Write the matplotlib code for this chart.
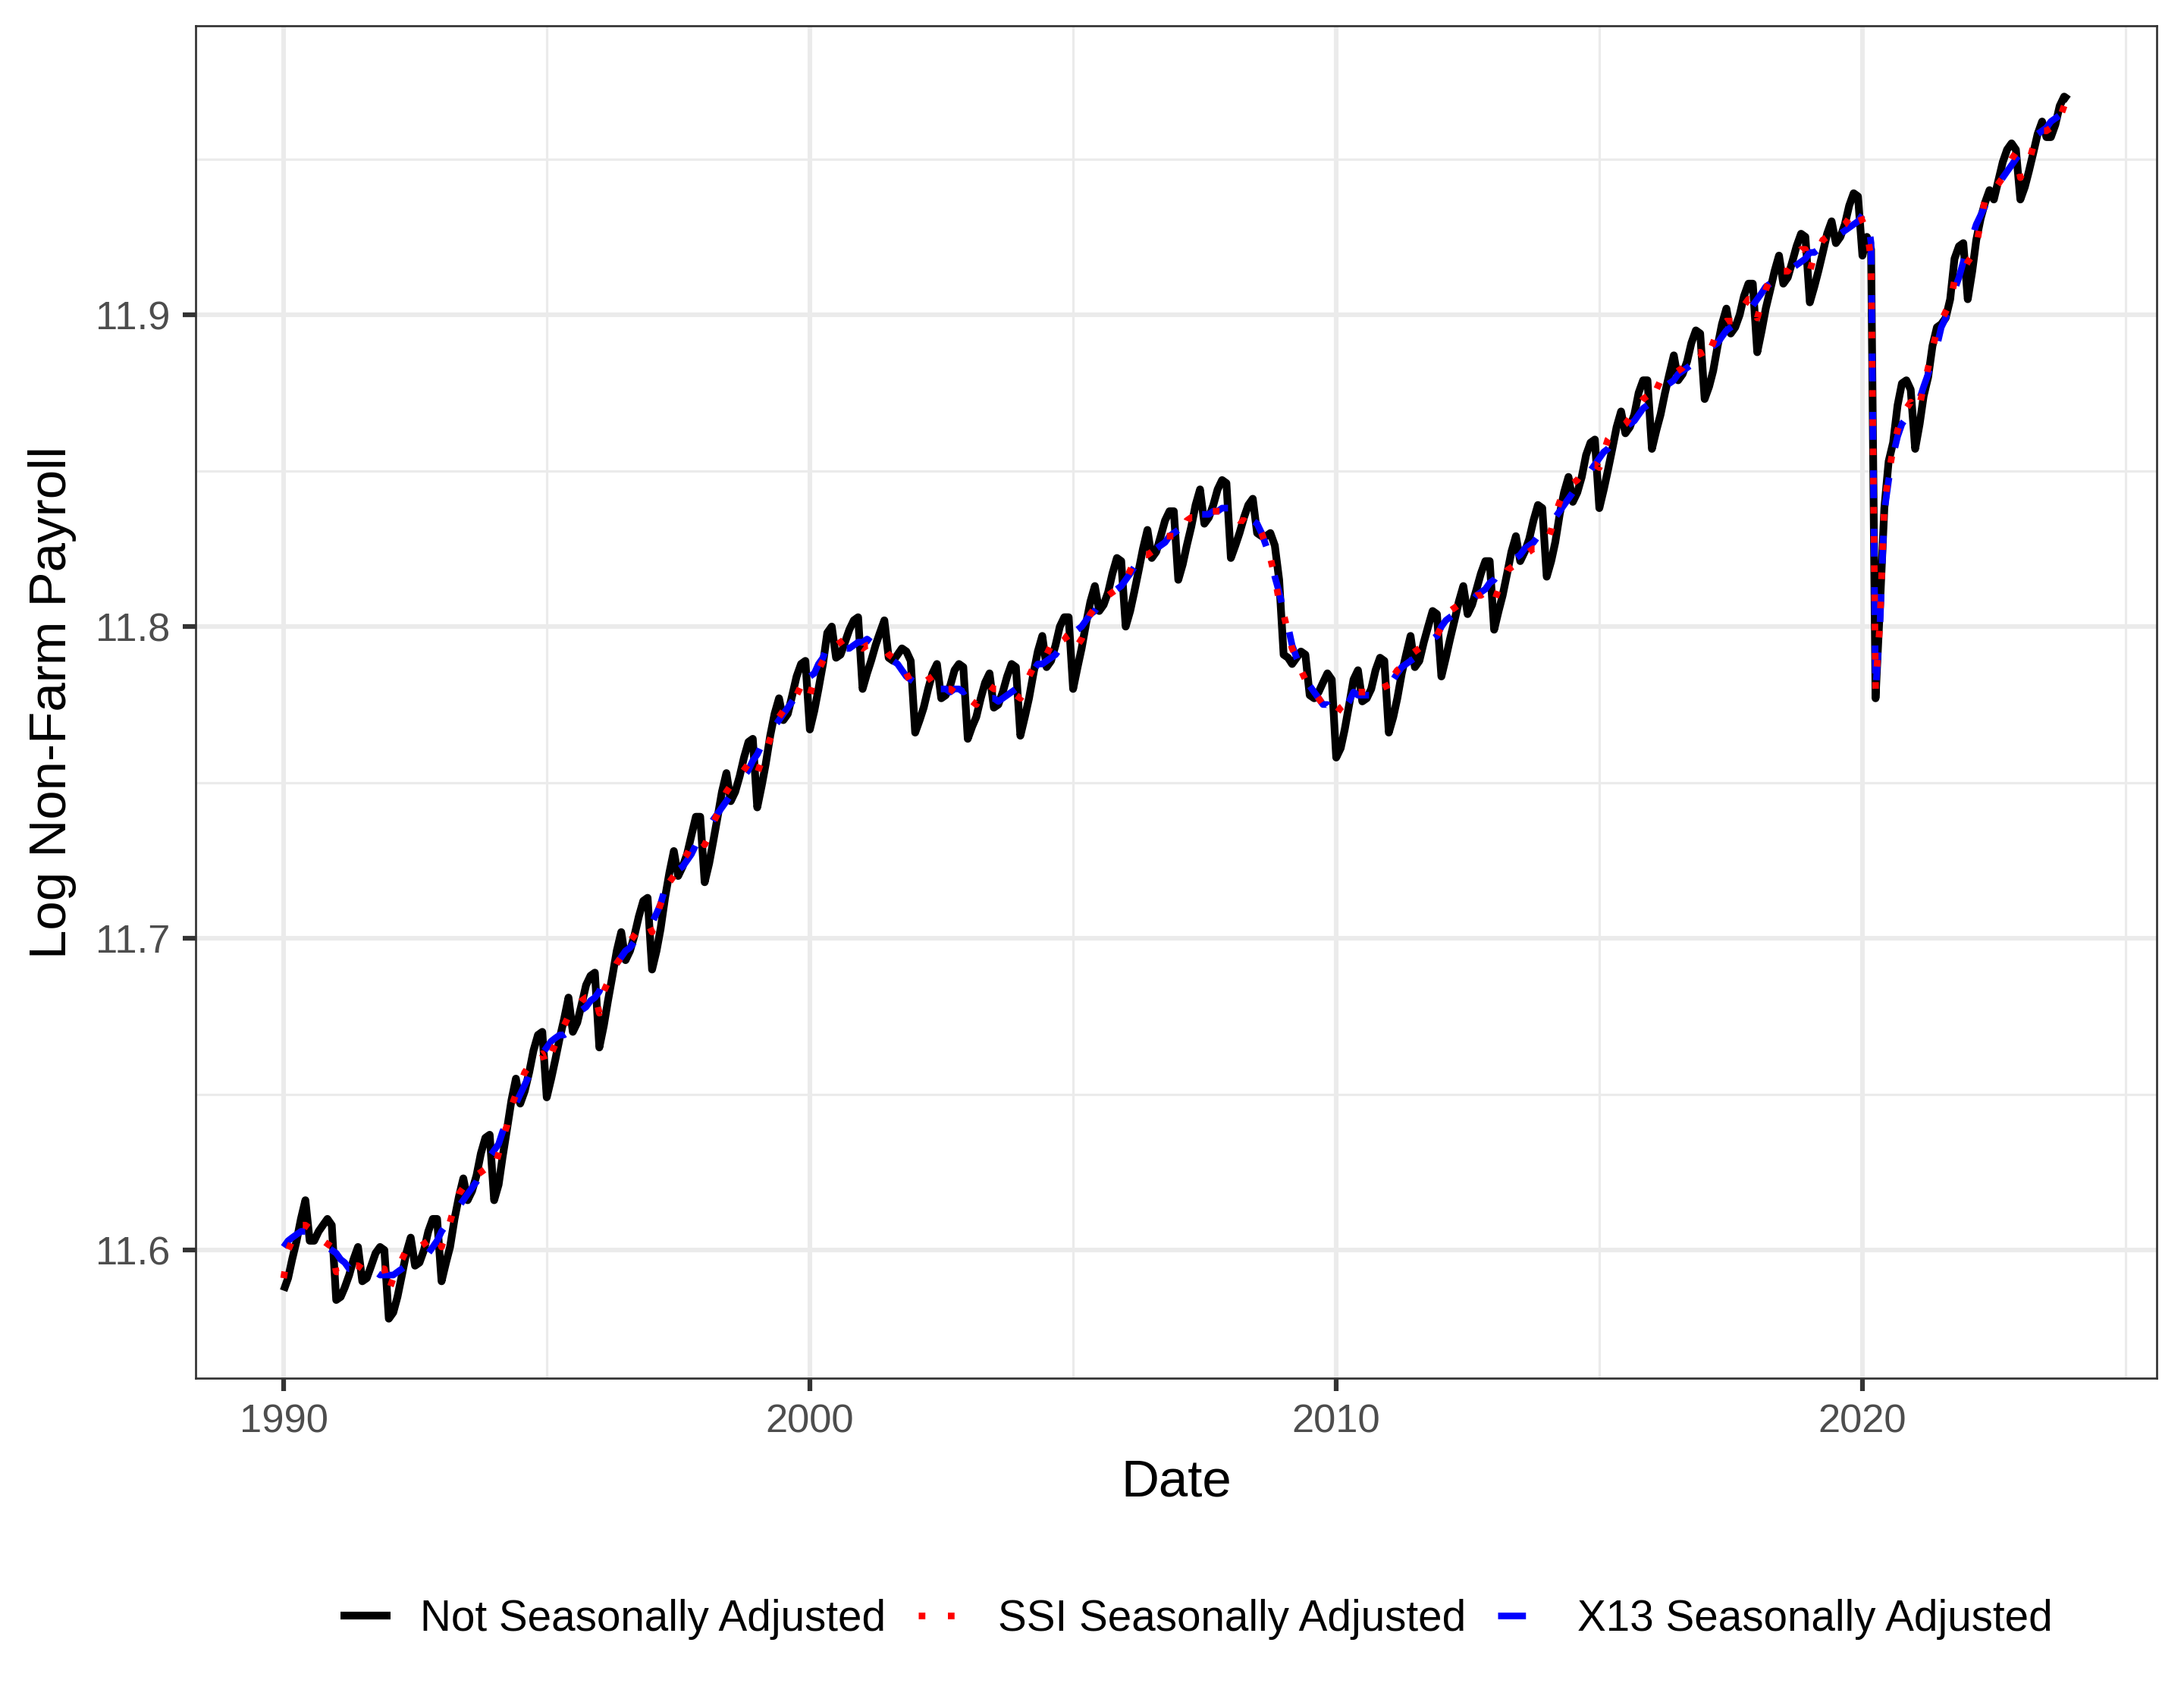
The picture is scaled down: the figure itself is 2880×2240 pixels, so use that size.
import matplotlib
matplotlib.use("Agg")
import matplotlib.pyplot as plt
import matplotlib.dates as mdates
from matplotlib.ticker import FixedLocator, FixedFormatter
import pandas as pd

plt.rcParams['font.family'] = ['Liberation Sans', 'DejaVu Sans']

# Log of non-farm payroll, monthly, Jan 1990 .. Dec 2023 (12 values per row = one year)
nsa = [
    11.587, 11.591, 11.597, 11.603, 11.610, 11.616, 11.603, 11.603, 11.606, 11.608, 11.610, 11.608,  # 1990
    11.584, 11.585, 11.588, 11.592, 11.597, 11.601, 11.590, 11.591, 11.595, 11.599, 11.601, 11.600,  # 1991
    11.578, 11.580, 11.585, 11.592, 11.599, 11.604, 11.595, 11.596, 11.600, 11.606, 11.610, 11.610,  # 1992
    11.590, 11.596, 11.601, 11.610, 11.617, 11.623, 11.616, 11.619, 11.624, 11.631, 11.636, 11.637,  # 1993
    11.616, 11.621, 11.630, 11.639, 11.648, 11.655, 11.647, 11.651, 11.657, 11.664, 11.669, 11.670,  # 1994
    11.649, 11.655, 11.661, 11.668, 11.674, 11.681, 11.670, 11.673, 11.679, 11.685, 11.688, 11.689,  # 1995
    11.665, 11.672, 11.680, 11.688, 11.696, 11.702, 11.693, 11.696, 11.701, 11.707, 11.712, 11.713,  # 1996
    11.690, 11.696, 11.703, 11.713, 11.721, 11.728, 11.720, 11.723, 11.727, 11.733, 11.739, 11.739,  # 1997
    11.718, 11.724, 11.731, 11.739, 11.747, 11.753, 11.744, 11.747, 11.752, 11.758, 11.763, 11.764,  # 1998
    11.742, 11.749, 11.756, 11.765, 11.772, 11.777, 11.770, 11.772, 11.778, 11.784, 11.788, 11.789,  # 1999
    11.767, 11.773, 11.780, 11.788, 11.798, 11.800, 11.790, 11.791, 11.795, 11.799, 11.802, 11.803,  # 2000
    11.780, 11.785, 11.789, 11.794, 11.798, 11.802, 11.790, 11.789, 11.791, 11.793, 11.792, 11.789,  # 2001
    11.766, 11.770, 11.774, 11.780, 11.785, 11.788, 11.777, 11.778, 11.781, 11.786, 11.788, 11.787,  # 2002
    11.764, 11.768, 11.771, 11.777, 11.782, 11.785, 11.774, 11.775, 11.779, 11.784, 11.788, 11.787,  # 2003
    11.765, 11.771, 11.777, 11.785, 11.792, 11.797, 11.787, 11.789, 11.794, 11.800, 11.803, 11.803,  # 2004
    11.780, 11.787, 11.793, 11.801, 11.808, 11.813, 11.805, 11.807, 11.811, 11.817, 11.822, 11.821,  # 2005
    11.800, 11.805, 11.811, 11.818, 11.825, 11.831, 11.822, 11.824, 11.829, 11.834, 11.837, 11.837,  # 2006
    11.815, 11.820, 11.826, 11.832, 11.839, 11.844, 11.833, 11.835, 11.839, 11.844, 11.847, 11.846,  # 2007
    11.822, 11.826, 11.830, 11.835, 11.839, 11.841, 11.830, 11.829, 11.829, 11.830, 11.826, 11.815,  # 2008
    11.791, 11.790, 11.788, 11.790, 11.792, 11.791, 11.778, 11.777, 11.779, 11.782, 11.785, 11.783,  # 2009
    11.758, 11.761, 11.767, 11.775, 11.783, 11.786, 11.776, 11.777, 11.780, 11.786, 11.790, 11.789,  # 2010
    11.766, 11.771, 11.777, 11.785, 11.791, 11.797, 11.787, 11.789, 11.795, 11.800, 11.805, 11.804,  # 2011
    11.784, 11.790, 11.796, 11.802, 11.808, 11.813, 11.804, 11.807, 11.812, 11.817, 11.821, 11.821,  # 2012
    11.799, 11.805, 11.810, 11.817, 11.824, 11.829, 11.821, 11.824, 11.828, 11.834, 11.839, 11.838,  # 2013
    11.816, 11.821, 11.827, 11.836, 11.843, 11.848, 11.840, 11.843, 11.848, 11.855, 11.859, 11.860,  # 2014
    11.838, 11.844, 11.850, 11.857, 11.864, 11.869, 11.862, 11.864, 11.868, 11.875, 11.879, 11.879,  # 2015
    11.857, 11.863, 11.868, 11.875, 11.881, 11.887, 11.879, 11.881, 11.885, 11.891, 11.895, 11.894,  # 2016
    11.873, 11.877, 11.882, 11.890, 11.897, 11.902, 11.894, 11.896, 11.900, 11.906, 11.910, 11.910,  # 2017
    11.888, 11.895, 11.902, 11.908, 11.914, 11.919, 11.910, 11.912, 11.917, 11.922, 11.926, 11.925,  # 2018
    11.904, 11.909, 11.914, 11.920, 11.926, 11.930, 11.923, 11.925, 11.929, 11.935, 11.939, 11.938,  # 2019
    11.919, 11.925, 11.921, 11.777, 11.806, 11.838, 11.853, 11.859, 11.871, 11.878, 11.879, 11.876,  # 2020
    11.857, 11.865, 11.874, 11.880, 11.890, 11.896, 11.897, 11.899, 11.905, 11.918, 11.922, 11.923,  # 2021
    11.905, 11.914, 11.924, 11.931, 11.936, 11.940, 11.937, 11.943, 11.949, 11.953, 11.955, 11.953,  # 2022
    11.937, 11.941, 11.946, 11.952, 11.958, 11.962, 11.957, 11.957, 11.961, 11.967, 11.970, 11.969,  # 2023
]

ssi_sa = [
    11.591, 11.600, 11.603, 11.606, 11.608, 11.608, 11.607, 11.606, 11.604, 11.603, 11.602, 11.601,  # 1990
    11.593, 11.593, 11.592, 11.593, 11.595, 11.595, 11.594, 11.595, 11.595, 11.595, 11.594, 11.594,  # 1991
    11.587, 11.591, 11.594, 11.597, 11.600, 11.601, 11.600, 11.601, 11.602, 11.603, 11.604, 11.605,  # 1992
    11.601, 11.606, 11.609, 11.614, 11.618, 11.620, 11.622, 11.623, 11.624, 11.625, 11.626, 11.627,  # 1993
    11.626, 11.631, 11.636, 11.640, 11.646, 11.650, 11.653, 11.657, 11.659, 11.661, 11.662, 11.663,  # 1994
    11.659, 11.663, 11.666, 11.669, 11.672, 11.675, 11.676, 11.678, 11.680, 11.681, 11.681, 11.682,  # 1995
    11.676, 11.683, 11.686, 11.689, 11.692, 11.694, 11.696, 11.699, 11.701, 11.703, 11.704, 11.705,  # 1996
    11.702, 11.707, 11.711, 11.715, 11.718, 11.720, 11.722, 11.725, 11.727, 11.730, 11.731, 11.732,  # 1997
    11.730, 11.733, 11.737, 11.740, 11.744, 11.747, 11.749, 11.751, 11.752, 11.754, 11.756, 11.757,  # 1998
    11.753, 11.757, 11.760, 11.764, 11.768, 11.771, 11.773, 11.774, 11.776, 11.778, 11.781, 11.782,  # 1999
    11.778, 11.783, 11.786, 11.789, 11.792, 11.793, 11.794, 11.795, 11.796, 11.796, 11.795, 11.794,  # 2000
    11.793, 11.794, 11.794, 11.794, 11.793, 11.793, 11.791, 11.790, 11.789, 11.788, 11.785, 11.782,  # 2001
    11.781, 11.781, 11.782, 11.783, 11.784, 11.784, 11.782, 11.780, 11.780, 11.779, 11.778, 11.778,  # 2002
    11.776, 11.776, 11.775, 11.778, 11.780, 11.781, 11.780, 11.780, 11.780, 11.779, 11.778, 11.778,  # 2003
    11.777, 11.779, 11.784, 11.787, 11.789, 11.790, 11.791, 11.794, 11.797, 11.798, 11.797, 11.795,  # 2004
    11.792, 11.794, 11.796, 11.800, 11.804, 11.806, 11.807, 11.808, 11.810, 11.811, 11.812, 11.813,  # 2005
    11.815, 11.818, 11.821, 11.823, 11.823, 11.823, 11.824, 11.826, 11.828, 11.829, 11.829, 11.829,  # 2006
    11.829, 11.831, 11.834, 11.835, 11.835, 11.836, 11.836, 11.837, 11.837, 11.837, 11.837, 11.836,  # 2007
    11.835, 11.835, 11.834, 11.834, 11.833, 11.833, 11.833, 11.830, 11.826, 11.822, 11.816, 11.808,  # 2008
    11.804, 11.798, 11.793, 11.790, 11.786, 11.783, 11.781, 11.779, 11.777, 11.775, 11.773, 11.772,  # 2009
    11.772, 11.774, 11.775, 11.776, 11.778, 11.779, 11.779, 11.779, 11.780, 11.781, 11.782, 11.782,  # 2010
    11.779, 11.784, 11.786, 11.787, 11.789, 11.791, 11.792, 11.793, 11.794, 11.795, 11.796, 11.797,  # 2011
    11.800, 11.802, 11.805, 11.806, 11.807, 11.808, 11.808, 11.809, 11.810, 11.810, 11.811, 11.811,  # 2012
    11.808, 11.812, 11.815, 11.818, 11.819, 11.820, 11.822, 11.823, 11.824, 11.825, 11.825, 11.826,  # 2013
    11.827, 11.831, 11.836, 11.840, 11.843, 11.845, 11.846, 11.847, 11.849, 11.851, 11.852, 11.852,  # 2014
    11.851, 11.856, 11.860, 11.862, 11.863, 11.864, 11.865, 11.867, 11.869, 11.871, 11.873, 11.874,  # 2015
    11.872, 11.876, 11.879, 11.880, 11.881, 11.881, 11.882, 11.883, 11.885, 11.887, 11.888, 11.888,  # 2016
    11.885, 11.888, 11.891, 11.895, 11.897, 11.898, 11.898, 11.898, 11.900, 11.903, 11.905, 11.905,  # 2017
    11.899, 11.904, 11.908, 11.912, 11.913, 11.914, 11.914, 11.914, 11.916, 11.919, 11.921, 11.921,  # 2018
    11.914, 11.919, 11.921, 11.924, 11.925, 11.926, 11.927, 11.928, 11.929, 11.931, 11.933, 11.934,  # 2019
    11.930, 11.927, 11.918, 11.780, 11.801, 11.839, 11.849, 11.857, 11.863, 11.867, 11.870, 11.872,  # 2020
    11.869, 11.871, 11.877, 11.883, 11.889, 11.895, 11.898, 11.901, 11.904, 11.911, 11.913, 11.914,  # 2021
    11.917, 11.919, 11.922, 11.930, 11.937, 11.938, 11.940, 11.942, 11.944, 11.947, 11.950, 11.952,  # 2022
    11.944, 11.947, 11.949, 11.954, 11.958, 11.959, 11.959, 11.960, 11.960, 11.963, 11.967, 11.969,  # 2023
]

x13_sa = [
    11.601, 11.603, 11.604, 11.605, 11.606, 11.606, 11.605, 11.604, 11.603, 11.602, 11.601, 11.600,  # 1990
    11.599, 11.597, 11.596, 11.594, 11.594, 11.593, 11.593, 11.593, 11.593, 11.593, 11.592, 11.592,  # 1991
    11.592, 11.592, 11.593, 11.594, 11.595, 11.595, 11.596, 11.597, 11.598, 11.599, 11.601, 11.603,  # 1992
    11.606, 11.608, 11.610, 11.612, 11.614, 11.616, 11.618, 11.620, 11.622, 11.625, 11.627, 11.630,  # 1993
    11.632, 11.634, 11.638, 11.641, 11.644, 11.647, 11.650, 11.653, 11.656, 11.659, 11.661, 11.663,  # 1994
    11.665, 11.667, 11.668, 11.669, 11.669, 11.670, 11.673, 11.675, 11.677, 11.678, 11.680, 11.681,  # 1995
    11.683, 11.687, 11.689, 11.690, 11.692, 11.694, 11.696, 11.697, 11.699, 11.701, 11.703, 11.704,  # 1996
    11.705, 11.708, 11.711, 11.716, 11.718, 11.720, 11.722, 11.723, 11.725, 11.727, 11.730, 11.732,  # 1997
    11.734, 11.736, 11.738, 11.740, 11.742, 11.744, 11.746, 11.748, 11.750, 11.752, 11.754, 11.757,  # 1998
    11.759, 11.762, 11.764, 11.766, 11.768, 11.770, 11.772, 11.774, 11.776, 11.778, 11.780, 11.783,  # 1999
    11.784, 11.785, 11.788, 11.790, 11.794, 11.793, 11.793, 11.792, 11.793, 11.793, 11.794, 11.795,  # 2000
    11.795, 11.796, 11.795, 11.794, 11.793, 11.792, 11.791, 11.789, 11.788, 11.786, 11.784, 11.783,  # 2001
    11.782, 11.781, 11.781, 11.781, 11.780, 11.780, 11.780, 11.780, 11.779, 11.780, 11.780, 11.779,  # 2002
    11.780, 11.779, 11.778, 11.777, 11.777, 11.777, 11.777, 11.776, 11.777, 11.778, 11.779, 11.780,  # 2003
    11.781, 11.782, 11.784, 11.786, 11.788, 11.788, 11.789, 11.790, 11.791, 11.793, 11.794, 11.795,  # 2004
    11.797, 11.799, 11.800, 11.802, 11.804, 11.805, 11.807, 11.809, 11.809, 11.810, 11.812, 11.813,  # 2005
    11.815, 11.817, 11.819, 11.820, 11.821, 11.822, 11.824, 11.825, 11.826, 11.827, 11.829, 11.830,  # 2006
    11.831, 11.832, 11.834, 11.834, 11.835, 11.836, 11.836, 11.836, 11.837, 11.837, 11.838, 11.838,  # 2007
    11.838, 11.838, 11.837, 11.836, 11.835, 11.834, 11.833, 11.830, 11.826, 11.822, 11.816, 11.811,  # 2008
    11.805, 11.800, 11.794, 11.790, 11.787, 11.783, 11.781, 11.779, 11.777, 11.775, 11.775, 11.773,  # 2009
    11.773, 11.772, 11.774, 11.776, 11.779, 11.778, 11.778, 11.778, 11.778, 11.779, 11.780, 11.781,  # 2010
    11.782, 11.783, 11.785, 11.787, 11.788, 11.789, 11.790, 11.791, 11.793, 11.794, 11.796, 11.797,  # 2011
    11.800, 11.802, 11.803, 11.804, 11.805, 11.806, 11.807, 11.808, 11.810, 11.811, 11.812, 11.814,  # 2012
    11.815, 11.817, 11.818, 11.819, 11.821, 11.822, 11.823, 11.825, 11.826, 11.827, 11.829, 11.830,  # 2013
    11.832, 11.833, 11.835, 11.837, 11.839, 11.841, 11.843, 11.844, 11.846, 11.848, 11.850, 11.852,  # 2014
    11.854, 11.856, 11.857, 11.859, 11.861, 11.862, 11.864, 11.865, 11.866, 11.868, 11.870, 11.871,  # 2015
    11.872, 11.874, 11.875, 11.877, 11.878, 11.879, 11.881, 11.882, 11.883, 11.884, 11.885, 11.887,  # 2016
    11.888, 11.889, 11.890, 11.891, 11.893, 11.895, 11.896, 11.897, 11.898, 11.900, 11.902, 11.903,  # 2017
    11.905, 11.907, 11.909, 11.910, 11.911, 11.912, 11.913, 11.914, 11.915, 11.916, 11.917, 11.918,  # 2018
    11.920, 11.920, 11.921, 11.922, 11.923, 11.924, 11.925, 11.926, 11.927, 11.928, 11.929, 11.930,  # 2019
    11.932, 11.933, 11.923, 11.779, 11.800, 11.837, 11.847, 11.855, 11.861, 11.865, 11.867, 11.868,  # 2020
    11.870, 11.873, 11.877, 11.881, 11.886, 11.890, 11.896, 11.899, 11.904, 11.908, 11.912, 11.917,  # 2021
    11.922, 11.925, 11.929, 11.932, 11.935, 11.937, 11.940, 11.942, 11.944, 11.946, 11.948, 11.950,  # 2022
    11.952, 11.954, 11.955, 11.957, 11.958, 11.959, 11.960, 11.962, 11.963, 11.964, 11.966, 11.968,  # 2023
]

series_labels = ["Not Seasonally Adjusted", "SSI Seasonally Adjusted", "X13 Seasonally Adjusted"]
x_tick_years = [1990, 2000, 2010, 2020]
x_minor_years = [1995, 2005, 2015, 2025]
y_ticks = [11.6, 11.7, 11.8, 11.9]
y_tick_labels = ["11.6", "11.7", "11.8", "11.9"]
y_minor = [11.65, 11.75, 11.85, 11.95]

n = min(len(nsa), len(ssi_sa), len(x13_sa))
dates = pd.date_range("1990-01-01", periods=n, freq="MS")

fig = plt.figure(figsize=(9.6, 2240 / 300), dpi=300)
ax = fig.add_axes([0.0896, 0.1888, 0.9875 - 0.0896, 0.9848 - 0.1888])

lw_nsa = 2.45
lw_sa = 2.1
ax.plot(dates, nsa[:n], color="black", lw=lw_nsa, solid_joinstyle="round",
        solid_capstyle="butt", zorder=3, label=series_labels[0])
l_x13, = ax.plot(dates, x13_sa[:n], color="#0000FF", lw=lw_sa, linestyle=(0, (4.2, 4.6)),
                 dash_capstyle="butt", zorder=4, label=series_labels[2])
l_ssi, = ax.plot(dates, ssi_sa[:n], color="#FF0000", lw=lw_sa, linestyle=(0, (1.0, 3.4)),
                 dash_capstyle="butt", zorder=5, label=series_labels[1])

base = mdates.date2num(pd.Timestamp("1990-01-01"))
ax.set_xlim(base - 1.671 * 365.25, base + 35.59 * 365.25)
ax.set_ylim(11.5589, 11.9927)

maj = [mdates.date2num(pd.Timestamp(f"{y}-01-01")) for y in x_tick_years]
mnr = [mdates.date2num(pd.Timestamp(f"{y}-01-01")) for y in x_minor_years]
ax.xaxis.set_major_locator(FixedLocator(maj))
ax.xaxis.set_major_formatter(FixedFormatter([str(y) for y in x_tick_years]))
ax.xaxis.set_minor_locator(FixedLocator(mnr))
ax.yaxis.set_major_locator(FixedLocator(y_ticks))
ax.yaxis.set_major_formatter(FixedFormatter(y_tick_labels))
ax.yaxis.set_minor_locator(FixedLocator(y_minor))

ax.set_axisbelow(True)
ax.grid(which="major", color="#EBEBEB", lw=1.45)
ax.grid(which="minor", color="#EBEBEB", lw=0.75)
for s in ax.spines.values():
    s.set_color("#333333")
    s.set_linewidth(0.65)
    s.set_zorder(6)

ax.tick_params(which="major", length=4.0, width=1.5, color="#333333",
               labelsize=12.6, labelcolor="#4D4D4D", pad=4)
ax.tick_params(which="minor", length=0)

ax.set_xlabel("Date", fontsize=16.6, color="black", labelpad=5.5)
ax.set_ylabel("Log Non-Farm Payroll", fontsize=16.6, color="black", labelpad=6)

handles = [ax.lines[0], l_ssi, l_x13]
leg = fig.legend(handles, series_labels, loc="center", bbox_to_anchor=(0.548, 0.047),
                 ncol=3, frameon=False, fontsize=13.6, handlelength=1.15,
                 handletextpad=0.7, columnspacing=0.75)

fig.savefig("out.png", dpi=300, facecolor="white")
